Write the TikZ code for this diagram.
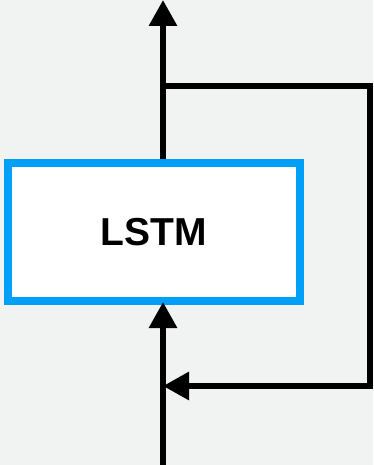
\documentclass[tikz,border=0pt]{standalone}
\usepackage{fontspec}
\setmainfont{Liberation Sans}
\usetikzlibrary{arrows.meta,calc}
\definecolor{bgcol}{HTML}{F1F2F2}
\definecolor{lstmblue}{HTML}{00A0F8}
\tikzset{
  cellbox/.style={draw=lstmblue, line width=8pt, fill=white,
    minimum width=292pt, minimum height=138pt, inner sep=0pt,
    font=\fontsize{39}{44}\selectfont\bfseries},
  flow/.style={line width=6pt, line join=miter, draw=black},
  tip/.style={-{Triangle[length=26pt,width=27pt]}}
}
\begin{document}
\begin{tikzpicture}[x=1pt,y=-1pt]
  % canvas
  \fill[bgcol] (0,0) rectangle (373,465);
  \useasboundingbox (0,0) rectangle (373,465);

  % signal path coordinates
  \coordinate (out) at (163,0);
  \coordinate (in) at (163,465);
  \coordinate (split) at (163,86);
  \coordinate (join) at (163,386);
  \coordinate (ne) at (370,86);
  \coordinate (se) at (370,386);

  % main line below the cell
  \draw[flow] (in) -- (join);

  % the LSTM cell
  \node[cellbox] (cell) at (154,232) {LSTM};

  % output upward
  \draw[flow, tip] (cell.north -| out) -- (out);

  % recurrent feedback loop
  \draw[flow, tip] (split) -- (ne) -- (se) -- (join);

  % input into the cell
  \draw[flow, tip, shorten >=-3pt] (join) -- (cell.south -| in);
\end{tikzpicture}
\end{document}
